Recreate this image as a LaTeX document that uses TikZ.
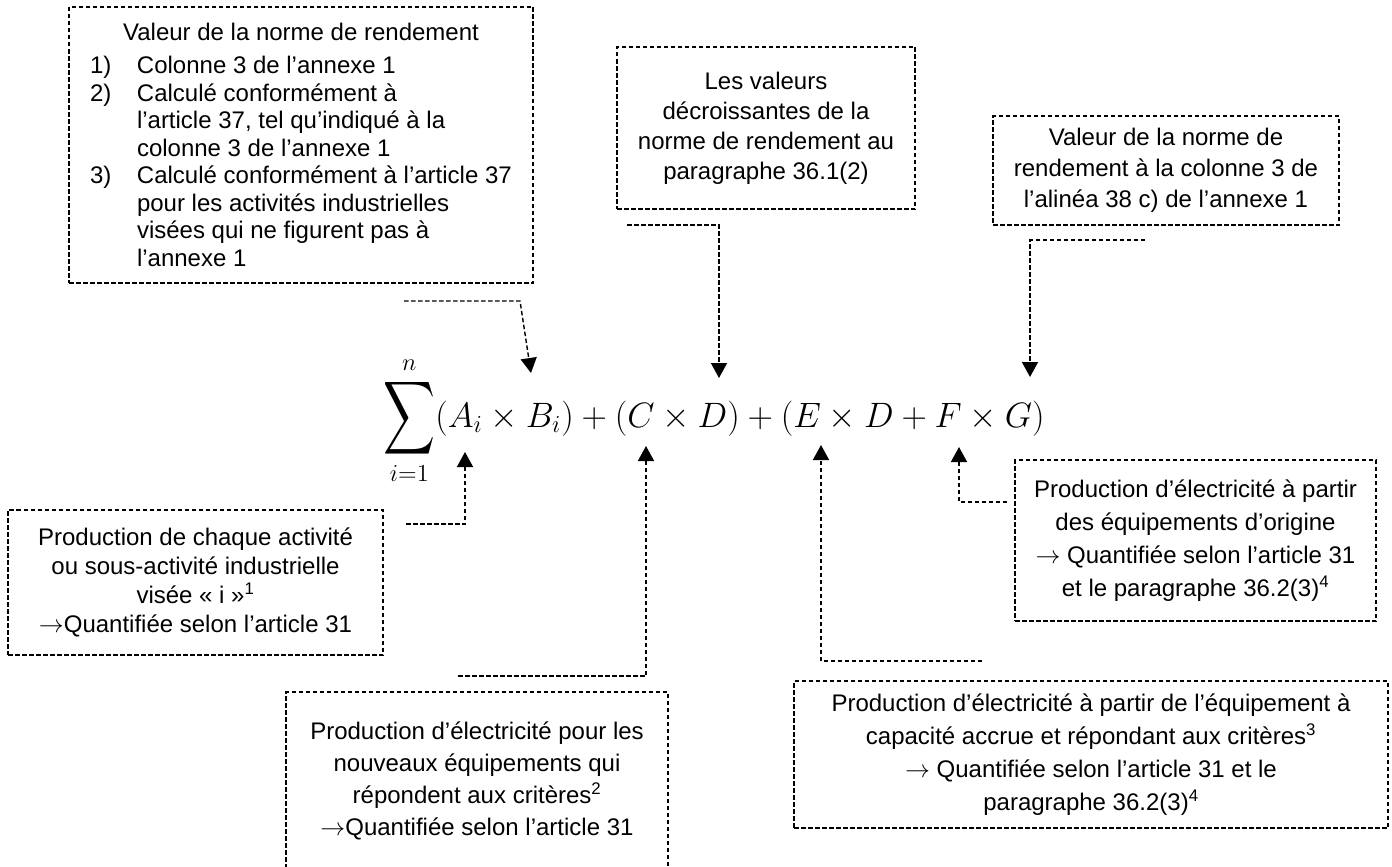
\documentclass[tikz,border=0pt]{standalone}
\usepackage{amsmath}
\usepackage{graphicx}
\usepackage{fontspec}
\setmainfont{Liberation Sans}
\usetikzlibrary{arrows.meta}
\tikzset{
  dbox/.style={draw, line width=1.3pt, dash pattern=on 4.5pt off 2.5pt, inner sep=0pt, align=center},
  conn/.style={line width=1.4pt, dash pattern=on 4.5pt off 2.5pt, -{Triangle[width=16pt,length=15pt,sep=0pt]}},
}
\newcommand{\numit}[1]{\hspace*{21pt}\makebox[47pt][l]{#1}}
\newcommand{\contit}{\hspace*{68pt}}
\newcommand{\rarr}{$\rightarrow$}
\newcommand{\bigsum}{\mathop{\vcenter{\hbox{\scalebox{1.02}[1.45]{$\displaystyle\sum$}}}}\limits}
\begin{document}
\begin{tikzpicture}[x=1pt,y=-1pt]
\useasboundingbox (0,0) rectangle (1392,867);
\clip (0,0) rectangle (1392,867);
% boxes
\node[dbox, align=left, minimum width=464pt, minimum height=276pt, font=\fontsize{24}{27.5}\selectfont] (b1) at (301,145) {%
\makebox[464pt][c]{Valeur de la norme de rendement}\\[5.5pt]
\numit{1)}Colonne 3 de l’annexe 1\\
\numit{2)}Calculé conformément à\\
\contit l’article 37, tel qu’indiqué à la\\
\contit colonne 3 de l’annexe 1\\
\numit{3)}Calculé conformément à l’article 37\\
\contit pour les activités industrielles\\
\contit visées qui ne figurent pas à\\
\contit l’annexe 1};
\node[dbox, minimum width=298pt, minimum height=162pt, font=\fontsize{24}{30}\selectfont] (b2) at (766,128) {Les valeurs\\ décroissantes de la\\ norme de rendement au\\ paragraphe 36.1(2)};
\node[dbox, minimum width=346pt, minimum height=109pt, font=\fontsize{24}{31}\selectfont] (b3) at (1166,170.5) {Valeur de la norme de\\ rendement à la colonne 3 de\\ l’alinéa 38 c) de l’annexe 1};
\node[dbox, minimum width=375pt, minimum height=145pt, font=\fontsize{24}{29}\selectfont] (b4) at (195.5,582.5) {Production de chaque activité\\ ou sous-activité industrielle\\ visée «~i~»\textsuperscript{1}\\ \rarr Quantifiée selon l’article 31};
\node[dbox, minimum width=382pt, minimum height=177pt, font=\fontsize{24}{32}\selectfont] (b5) at (477,780.5) {Production d’électricité pour les\\ nouveaux équipements qui\\ répondent aux critères\textsuperscript{2}\\ \rarr Quantifiée selon l’article 31};
\node[dbox, minimum width=594pt, minimum height=147pt, font=\fontsize{24}{33}\selectfont] (b6) at (1091,754.5) {Production d’électricité à partir de l’équipement à\\ capacité accrue et répondant aux critères\textsuperscript{3}\\ \rarr{} Quantifiée selon l’article 31 et le\\ paragraphe 36.2(3)\textsuperscript{4}};
\node[dbox, minimum width=361pt, minimum height=161pt, font=\fontsize{24}{33}\selectfont] (b7) at (1195.5,540.5) {Production d’électricité à partir\\ des équipements d’origine\\ \rarr{} Quantifiée selon l’article 31\\ et le paragraphe 36.2(3)\textsuperscript{4}};
% formula
\node[inner sep=0pt, anchor=base west, scale=2.04] (f) at (383,427) {\LARGE$\displaystyle\bigsum_{i=1}^{n}(A_i\times B_i)+(C\times D)+(E\times D+F\times G)$};
% connector coordinates
\coordinate (c1s) at (404,301); \coordinate (c1b) at (520,301); \coordinate (c1t) at (531,373);
\coordinate (c2s) at (627,225); \coordinate (c2t) at (719,378);
\coordinate (c3s) at (1145,240); \coordinate (c3t) at (1030,377);
\coordinate (c4s) at (406,524); \coordinate (c4t) at (465,452);
\coordinate (c5s) at (458,676); \coordinate (c5t) at (646,446);
\coordinate (c6s) at (982,661); \coordinate (c6t) at (821,445);
\coordinate (c7s) at (1007,502); \coordinate (c7t) at (959,447);
\draw[conn] (c1s) -- (c1b) -- (c1t);
\draw[conn] (c2s) -| (c2t);
\draw[conn] (c3s) -| (c3t);
\draw[conn] (c4s) -| (c4t);
\draw[conn] (c5s) -| (c5t);
\draw[conn] (c6s) -| (c6t);
\draw[conn] (c7s) -| (c7t);
\end{tikzpicture}
\end{document}
